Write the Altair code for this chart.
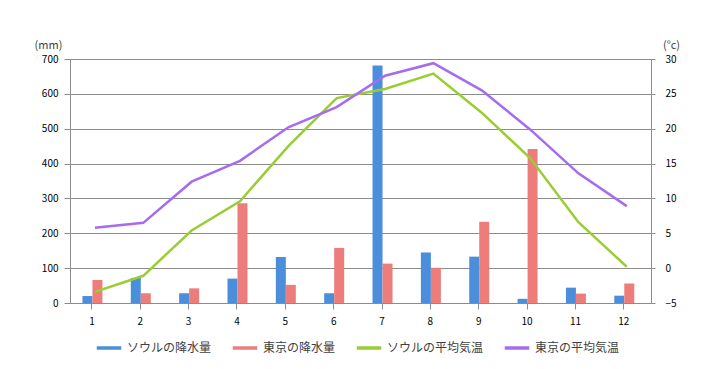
import altair as alt
import pandas as pd

months = list(range(1, 13))
seoul_rain = [20, 72, 28, 70, 132, 28, 681, 145, 133, 12, 44, 21]
tokyo_rain = [66, 28, 42, 286, 52, 158, 113, 101, 233, 442, 27, 56]
seoul_temp = [-3.4, -1.1, 5.4, 9.6, 17.5, 24.4, 25.7, 27.9, 22.3, 15.8, 6.6, 0.2]
tokyo_temp = [5.8, 6.5, 12.4, 15.4, 20.2, 23.1, 27.6, 29.4, 25.5, 19.9, 13.6, 8.9]

series = ["ソウルの降水量", "東京の降水量", "ソウルの平均気温", "東京の平均気温"]
colors = ["#4a8edc", "#ed7d7a", "#9acd32", "#a66cf0"]

rain_df = pd.DataFrame({
    "month": months * 2,
    "mm": seoul_rain + tokyo_rain,
    "series": [series[0]] * 12 + [series[1]] * 12,
})
temp_df = pd.DataFrame({
    "month": months * 2,
    "temp": seoul_temp + tokyo_temp,
    "series": [series[2]] * 12 + [series[3]] * 12,
})

FONT = "Noto Sans CJK JP"
GRID = "#8c8c8c"
LABEL = "#404040"

x_enc = alt.X(
    "month:Q",
    scale=alt.Scale(domain=[0.66, 12.47], nice=False, zero=False),
    axis=alt.Axis(
        values=months,
        format="d",
        labelOverlap=False,
        labelFlush=False,
        title=None,
        grid=False,
        domainColor=GRID,
        tickColor=GRID,
        tickSize=6,
        labelPadding=7,
    ),
)

color_enc = alt.Color(
    "series:N",
    scale=alt.Scale(domain=series, range=colors),
    legend=alt.Legend(
        orient="none",
        legendX=25,
        legendY=275,
        direction="horizontal",
        title=None,
        symbolType="stroke",
        symbolStrokeWidth=3.5,
        symbolSize=600,
        labelFontSize=12,
        labelColor=LABEL,
        labelFont=FONT,
        columnPadding=13,
    ),
)

y_rain = alt.Y(
    "mm:Q",
    scale=alt.Scale(domain=[0, 700], nice=False),
    axis=alt.Axis(
        values=[0, 100, 200, 300, 400, 500, 600, 700],
        orient="left",
        title="(mm)",
        titleAngle=0,
        titleX=-22,
        titleY=-9,
        titleAlign="center",
        titleBaseline="bottom",
        titleFontWeight="normal",
        titleFontSize=11,
        titleColor=LABEL,
        grid=True,
        gridColor=GRID,
        gridWidth=1.2,
        domainColor=GRID,
        tickColor=GRID,
        tickSize=6,
        labelPadding=6,
    ),
)

y_temp = alt.Y(
    "temp:Q",
    scale=alt.Scale(domain=[-5, 30], nice=False, zero=False),
    axis=alt.Axis(
        values=[-5, 0, 5, 10, 15, 20, 25, 30],
        orient="right",
        title="(°c)",
        titleAngle=0,
        titleX=20,
        titleY=-9,
        titleAlign="center",
        titleBaseline="bottom",
        titleFontWeight="normal",
        titleFontSize=11,
        titleColor=LABEL,
        grid=False,
        domainColor=GRID,
        tickColor=GRID,
        tickSize=4,
        labelPadding=10,
    ),
)

bar_seoul = (
    alt.Chart(rain_df)
    .transform_filter(alt.datum.series == series[0])
    .mark_bar(width=10, xOffset=-4)
    .encode(y=y_rain, color=color_enc)
)
bar_tokyo = (
    alt.Chart(rain_df)
    .transform_filter(alt.datum.series == series[1])
    .mark_bar(width=10, xOffset=6)
    .encode(y=y_rain, color=color_enc)
)
lines = (
    alt.Chart(temp_df)
    .mark_line(strokeWidth=2.5, xOffset=3.5)
    .encode(y=y_temp, color=color_enc, detail="series:N")
)

bars = alt.layer(bar_seoul, bar_tokyo)

chart = (
    alt.layer(bars, lines)
    .encode(x=x_enc)
    .resolve_scale(y="independent")
    .properties(
        width=581,
        height=244,
        padding={"left": 62, "top": 51, "right": 61, "bottom": 58},
        autosize=alt.AutoSizeParams(type="none"),
    )
    .configure_view(stroke=None)
    .configure_axis(
        labelFont=FONT,
        titleFont=FONT,
        labelFontSize=12,
        labelColor=LABEL,
    )
    .configure(font=FONT)
)

chart.save("out.html", embed_options={"renderer": "svg", "actions": False})
